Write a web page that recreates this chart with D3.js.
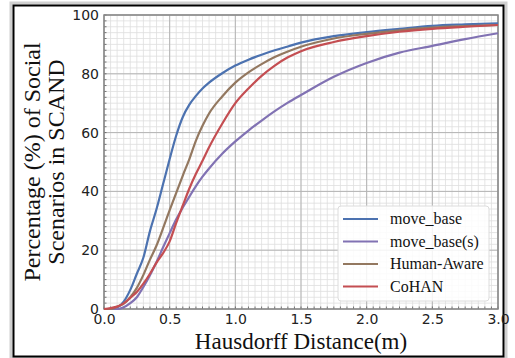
<!DOCTYPE html>
<html>
<head>
<meta charset="utf-8">
<script src="https://cdn.jsdelivr.net/npm/d3@7"></script>
<style>
  body { margin: 0; background: #fff; }
  svg { display: block; }
</style>
</head>
<body>
<div id="chart"></div>
<script>
var distances = [0, 0.05, 0.1, 0.15, 0.2, 0.25, 0.3, 0.35, 0.4, 0.45, 0.5, 0.55, 0.6, 0.65, 0.7, 0.75, 0.8, 0.9, 1.0, 1.1, 1.2, 1.3, 1.4, 1.5, 1.75, 2.0, 2.25, 2.5, 2.75, 3.0];

var moveBase     = [0, 0, 0.5, 2.5, 6.5, 12, 17.5, 26.5, 34, 42.5, 51, 59, 65.3, 69.5, 72.5, 75, 77, 80.2, 82.8, 84.8, 86.5, 88, 89.3, 90.6, 92.8, 94.2, 95.3, 96.3, 96.8, 97.2];
var moveBaseS    = [0, 0, 0, 0.6, 2, 4, 7.5, 11.5, 16, 21, 25.8, 30.5, 34.5, 38.2, 41.8, 45, 47.8, 52.8, 57, 60.7, 64.1, 67.3, 70.2, 72.8, 79, 83.7, 87.2, 89.5, 91.8, 93.8];
var humanAware   = [0, 0, 0.8, 1.8, 4, 7.2, 11.6, 16.8, 21.6, 27.5, 33.6, 39.5, 45.4, 51, 57.3, 62.3, 66.5, 72.3, 77, 80.5, 83.3, 85.7, 87.6, 89.2, 92, 93.6, 94.8, 95.7, 96.2, 96.6];
var cohan        = [0, 0.3, 0.8, 1.9, 3.8, 5.8, 8.6, 12, 15.8, 19, 23, 29.3, 35.2, 41, 46, 50.4, 55, 63, 70, 75, 79.3, 82.8, 85.6, 87.7, 90.8, 92.8, 94.3, 95.3, 96, 96.6];

var seriesNames  = ["move_base", "move_base(s)", "Human-Aware", "CoHAN"];
var seriesColors = ["#4c72b0", "#8172b3", "#937860", "#c44e52"];
var seriesValues = [moveBase, moveBaseS, humanAware, cohan];

var xTicks = [0, 0.5, 1.0, 1.5, 2.0, 2.5, 3.0];
var yTicks = [0, 20, 40, 60, 80, 100];

var W = 515, H = 358;
var plotL = 104, plotR = 498, plotT = 15, plotB = 309;

var svg = d3.select("#chart").append("svg")
    .attr("width", W)
    .attr("height", H);

// frame with soft shadow
svg.append("rect")
    .attr("x", 11).attr("y", 3).attr("width", 495).attr("height", 355)
    .attr("fill", "none").attr("stroke", "#d0d0d0").attr("stroke-width", 3);
svg.append("rect")
    .attr("x", 13.5).attr("y", 5.5).attr("width", 490).attr("height", 351)
    .attr("fill", "#fff").attr("stroke", "#000").attr("stroke-width", 2);

var x = d3.scaleLinear().domain([0, 3]).range([plotL, plotR]);
var y = d3.scaleLinear().domain([0, 100]).range([plotB, plotT]);

// minor grid
var g = svg.append("g");
g.selectAll(".vminor").data(d3.range(0, 61).map(function(i) { return i * 0.05; }))
  .enter().append("line")
    .attr("x1", function(d) { return x(d); }).attr("x2", function(d) { return x(d); })
    .attr("y1", plotT).attr("y2", plotB)
    .attr("stroke", "#dedede").attr("stroke-width", 0.8);
g.selectAll(".hminor").data(d3.range(0, 51).map(function(i) { return i * 2; }))
  .enter().append("line")
    .attr("y1", function(d) { return y(d); }).attr("y2", function(d) { return y(d); })
    .attr("x1", plotL).attr("x2", plotR)
    .attr("stroke", "#dedede").attr("stroke-width", 0.8);

// major grid
g.selectAll(".vmajor").data(xTicks).enter().append("line")
    .attr("x1", function(d) { return x(d); }).attr("x2", function(d) { return x(d); })
    .attr("y1", plotT).attr("y2", plotB)
    .attr("stroke", "#b4b4b4").attr("stroke-width", 1);
g.selectAll(".hmajor").data(yTicks).enter().append("line")
    .attr("y1", function(d) { return y(d); }).attr("y2", function(d) { return y(d); })
    .attr("x1", plotL).attr("x2", plotR)
    .attr("stroke", "#b4b4b4").attr("stroke-width", 1);

// axes
var xAxis = d3.axisBottom(x).tickValues(xTicks).tickSize(0).tickPadding(5)
    .tickFormat(d3.format(".1f"));
var yAxis = d3.axisLeft(y).tickValues(yTicks).tickSize(0).tickPadding(5);

var xg = svg.append("g").attr("transform", "translate(0," + plotB + ")").call(xAxis);
var yg = svg.append("g").attr("transform", "translate(" + plotL + ",0)").call(yAxis);
[xg, yg].forEach(function(a) {
  a.select(".domain").remove();
  a.selectAll("text").attr("font-family", "DejaVu Sans").attr("font-size", 14).attr("fill", "#222");
});

// minor ticks along left and bottom spines
svg.selectAll(".ytickm").data(d3.range(0, 51).map(function(i) { return i * 2; }))
  .enter().append("line")
    .attr("x1", plotL).attr("x2", plotL + 2.5)
    .attr("y1", function(d) { return y(d); }).attr("y2", function(d) { return y(d); })
    .attr("stroke", "#555").attr("stroke-width", 0.8);
svg.selectAll(".xtickm").data(d3.range(0, 61).map(function(i) { return i * 0.05; }))
  .enter().append("line")
    .attr("y1", plotB).attr("y2", plotB - 2.5)
    .attr("x1", function(d) { return x(d); }).attr("x2", function(d) { return x(d); })
    .attr("stroke", "#555").attr("stroke-width", 0.8);

// spines
svg.append("rect")
    .attr("x", plotL).attr("y", plotT).attr("width", plotR - plotL).attr("height", plotB - plotT)
    .attr("fill", "none").attr("stroke", "#888").attr("stroke-width", 1.5);

// curves
var line = d3.line()
    .x(function(d, i) { return x(distances[i]); })
    .y(function(d) { return y(d); })
    .curve(d3.curveMonotoneX);

seriesValues.forEach(function(vals, k) {
  svg.append("path")
      .datum(vals)
      .attr("d", line)
      .attr("fill", "none")
      .attr("stroke", seriesColors[k])
      .attr("stroke-width", 2.2);
});

// legend
var lg = svg.append("g");
lg.append("rect")
    .attr("x", 338).attr("y", 206).attr("width", 151).attr("height", 95).attr("rx", 3)
    .attr("fill", "#fff").attr("fill-opacity", 0.85)
    .attr("stroke", "#dcdcdc").attr("stroke-width", 1);
seriesNames.forEach(function(name, k) {
  var yy = 219 + k * 22.5;
  lg.append("line")
      .attr("x1", 343).attr("x2", 378).attr("y1", yy).attr("y2", yy)
      .attr("stroke", seriesColors[k]).attr("stroke-width", 2.2);
  lg.append("text")
      .attr("x", 390).attr("y", yy + 5)
      .attr("font-family", "Liberation Serif").attr("font-size", 16).attr("fill", "#111")
      .text(name);
});

// axis titles
svg.append("text")
    .attr("x", (plotL + plotR) / 2).attr("y", 349)
    .attr("text-anchor", "middle")
    .attr("font-family", "Liberation Serif").attr("font-size", 23).attr("fill", "#111")
    .text("Hausdorff Distance(m)");

var yt = svg.append("text")
    .attr("transform", "translate(40," + ((plotT + plotB) / 2) + ") rotate(-90)")
    .attr("text-anchor", "middle")
    .attr("font-family", "Liberation Serif").attr("font-size", 24).attr("fill", "#111");
yt.append("tspan").attr("x", 0).attr("y", 0).text("Percentage (%) of Social");
yt.append("tspan").attr("x", 0).attr("y", 24).text("Scenarios in SCAND");
</script>
</body>
</html>
